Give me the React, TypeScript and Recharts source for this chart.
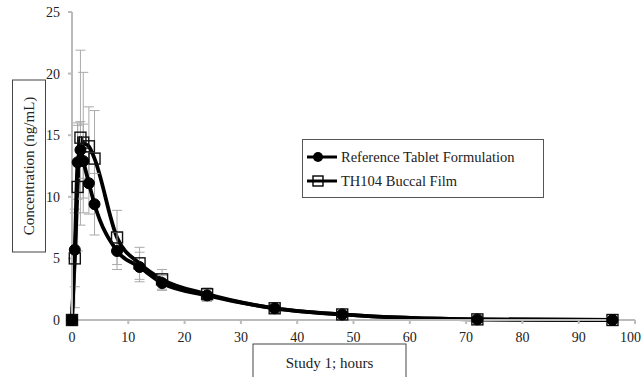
import React from "react";
import { LineChart, Line, XAxis, YAxis, ErrorBar, Label } from "recharts";

const hours = [0, 0.5, 1, 1.5, 2, 3, 4, 8, 12, 16, 24, 36, 48, 72, 96];
const referenceTablet = [0, 5.7, 12.8, 13.8, 12.9, 11.1, 9.4, 5.6, 4.3, 3.0, 2.0, 0.95, 0.45, 0.05, 0];
const referenceErr = [0, 3.0, 3.0, 2.3, 3.0, 2.5, 2.5, 1.5, 1.2, 0.6, 0.5, 0.3, 0.2, 0, 0];
const buccalFilm = [0, 5.0, 10.8, 14.8, 14.4, 14.1, 13.1, 6.7, 4.6, 3.3, 2.1, 0.95, 0.45, 0.05, 0];
const buccalErr = [0, 4.0, 5.2, 7.1, 5.7, 3.2, 3.9, 2.2, 1.3, 0.8, 0.5, 0.3, 0.2, 0, 0];
const xTicks = [0, 10, 20, 30, 40, 50, 60, 70, 80, 90, 100];
const yTicks = [0, 5, 10, 15, 20, 25];
const seriesNames = ["Reference Tablet Formulation", "TH104 Buccal Film"];
const axisTitles = { x: "Study 1; hours", y: "Concentration (ng/mL)" };

const data = hours.map((h, i) => ({
  h,
  ref: referenceTablet[i],
  refErr: referenceErr[i],
  film: buccalFilm[i],
  filmErr: buccalErr[i],
}));

const FONT = "Liberation Serif, Times New Roman, Tinos, serif";

const CircleDot = (props: any) => {
  const { cx, cy } = props;
  if (cx == null || cy == null) return null;
  return <circle cx={cx} cy={cy} r={5.5} fill="#000" stroke="#000" />;
};

const SquareDot = (props: any) => {
  const { cx, cy, index } = props;
  if (cx == null || cy == null) return null;
  const filled = index === 0;
  return (
    <rect x={cx - 5.5} y={cy - 5.5} width={11} height={11} fill={filled ? "#000" : "none"} stroke="#111" strokeWidth={1.4} />
  );
};

const YTitle = (props: any) => {
  const vb = props.viewBox || {};
  const cy = vb.y + vb.height / 2;
  const cx = 29;
  return (
    <g>
      <rect x={cx - 16.5} y={cy - 86} width={33} height={172} fill="#fff" stroke="#444" strokeWidth={1} />
      <text x={cx} y={cy} transform={`rotate(-90 ${cx} ${cy})`} textAnchor="middle" dominantBaseline="central" fontFamily={FONT} fontSize={15} fill="#222">
        {axisTitles.y}
      </text>
    </g>
  );
};

const XTitle = (props: any) => {
  const vb = props.viewBox || {};
  const cx = 329.5;
  const top = vb.y + 24;
  return (
    <g>
      <rect x={cx - 76.5} y={top} width={153} height={40} fill="#fff" stroke="#444" strokeWidth={1} />
      <text x={cx} y={top + 19} textAnchor="middle" dominantBaseline="central" fontFamily={FONT} fontSize={15} fill="#222">
        {axisTitles.x}
      </text>
    </g>
  );
};

const LegendBox = () => (
  <div style={{ position: "absolute", left: 302, top: 139, border: "1px solid #555", background: "#fff", width: 242, height: 59, boxSizing: "border-box", padding: "5px 0 0 2px", fontFamily: FONT, fontSize: 14.5, color: "#222" }}>
    <div style={{ display: "flex", alignItems: "center", height: 24 }}>
      <svg width={32} height={14} style={{ marginRight: 4 }}>
        <line x1={2} y1={7} x2={32} y2={7} stroke="#000" strokeWidth={3} />
        <circle cx={13} cy={7} r={5} fill="#000" />
      </svg>
      <span>{seriesNames[0]}</span>
    </div>
    <div style={{ display: "flex", alignItems: "center", height: 24 }}>
      <svg width={32} height={14} style={{ marginRight: 4 }}>
        <line x1={2} y1={7} x2={32} y2={7} stroke="#000" strokeWidth={3} />
        <rect x={8} y={2} width={10} height={10} fill="none" stroke="#000" strokeWidth={1.4} />
      </svg>
      <span>{seriesNames[1]}</span>
    </div>
  </div>
);

export default function App() {
  return (
    <div style={{ position: "absolute", left: 0, top: 0, width: 641, height: 377, background: "#fff" }}>
      <LineChart width={641} height={377} data={data} margin={{ top: 12, right: 6, bottom: 0, left: 0 }}>
        <XAxis
          dataKey="h"
          type="number"
          domain={[0, 100]}
          ticks={xTicks}
          height={57}
          stroke="#bbb"
          strokeWidth={2}
          tickSize={4}
          tick={{ fill: "#222", fontFamily: FONT, fontSize: 14 }}
          tickMargin={8}
        >
          <Label content={<XTitle />} />
        </XAxis>
        <YAxis
          type="number"
          domain={[0, 25]}
          ticks={yTicks}
          width={72}
          stroke="#bbb"
          strokeWidth={2}
          tickSize={4}
          tick={{ fill: "#222", fontFamily: FONT, fontSize: 14 }}
          tickMargin={8}
        >
          <Label content={<YTitle />} />
        </YAxis>
        <Line
          type="monotone"
          dataKey="film"
          stroke="#000"
          strokeWidth={3.8}
          dot={<SquareDot />}
          isAnimationActive={false}
        >
          <ErrorBar dataKey="filmErr" direction="y" width={5} stroke="#aaa" strokeWidth={1} />
        </Line>
        <Line
          type="monotone"
          dataKey="ref"
          stroke="#000"
          strokeWidth={3.8}
          dot={<CircleDot />}
          isAnimationActive={false}
        >
          <ErrorBar dataKey="refErr" direction="y" width={5} stroke="#aaa" strokeWidth={1} />
        </Line>
      </LineChart>
      <LegendBox />
    </div>
  );
}
